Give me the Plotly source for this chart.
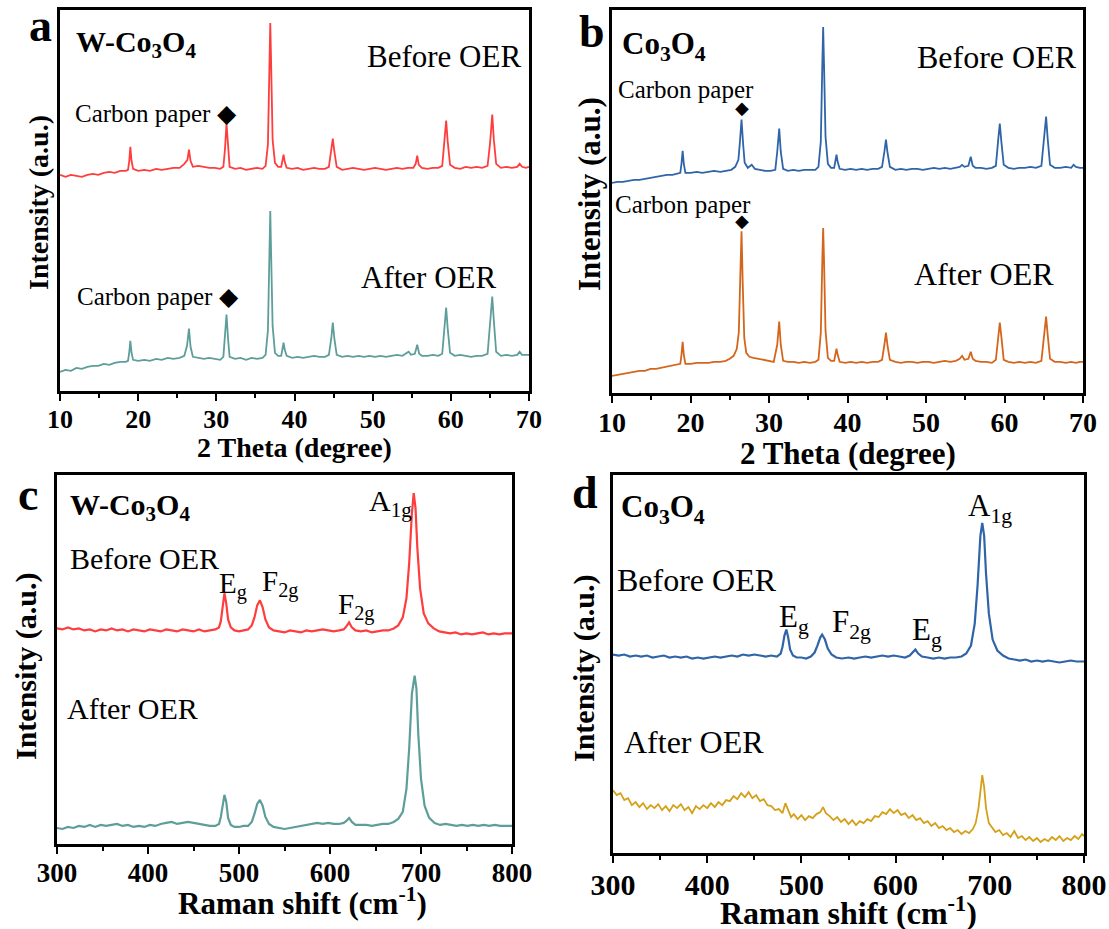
import plotly.graph_objects as go

# ---------------- DATA ----------------
# Panel a: W-Co3O4 XRD, (2theta, intensity a.u.)
xrd_a_before = [(10.0,215),(10.7,213),(11.4,215),(12.1,214),(12.8,213),(13.5,215),(14.2,216),(14.9,215),(15.6,217),(16.3,218),(17.0,217),(17.7,219),(18.4,219),(18.7,220),(18.85,228),(19.0,243),(19.15,229),(19.35,221),(20.0,219),(20.8,220),(21.5,219),(22.3,221),(23.0,220),(23.8,221),(24.5,222),(25.3,222),(25.9,226),(26.3,230),(26.5,240),(26.7,229),(27.0,223),(27.7,224),(28.4,223),(29.1,222),(29.8,222),(30.5,221),(30.9,223),(31.1,240),(31.3,266),(31.5,240),(31.7,223),(32.4,221),(33.1,222),(33.8,220),(34.5,221),(35.2,222),(35.9,221),(36.3,224),(36.6,245),(36.8,330),(36.9,366),(37.0,330),(37.2,250),(37.5,227),(37.9,223),(38.3,223),(38.45,229),(38.6,235),(38.75,228),(39.0,222),(39.7,221),(40.4,222),(41.1,220),(41.8,221),(42.5,222),(43.2,221),(43.9,221),(44.4,223),(44.7,238),(44.9,251),(45.1,238),(45.4,223),(46.1,220),(46.8,221),(47.5,222),(48.2,221),(48.9,220),(49.6,221),(50.3,222),(51.0,221),(51.7,220),(52.4,221),(53.1,222),(53.8,221),(54.5,222),(55.2,222),(55.5,226),(55.7,234),(55.9,225),(56.3,222),(57.0,221),(57.7,222),(58.4,222),(58.9,224),(59.2,250),(59.4,269),(59.6,248),(59.9,225),(60.5,222),(61.2,221),(61.9,223),(62.6,222),(63.3,223),(64.0,222),(64.7,224),(65.0,245),(65.3,275),(65.5,250),(65.8,226),(66.4,222),(67.1,223),(67.8,222),(68.5,223),(68.8,226),(69.1,223),(69.6,222),(70.0,223)]
xrd_a_after = [(10.0,19),(10.7,21),(11.4,20),(12.1,23),(12.8,22),(13.5,24),(14.2,25),(14.9,25),(15.6,27),(16.3,26),(17.0,28),(17.7,29),(18.4,29),(18.7,30),(18.85,38),(19.0,50),(19.15,38),(19.35,31),(20.0,30),(20.8,31),(21.5,30),(22.3,32),(23.0,31),(23.8,33),(24.5,32),(25.3,33),(25.9,35),(26.25,45),(26.5,62),(26.7,44),(27.0,34),(27.7,33),(28.4,32),(29.1,33),(29.8,32),(30.5,31),(30.9,34),(31.1,52),(31.3,76),(31.5,52),(31.7,34),(32.4,32),(33.1,33),(33.8,31),(34.5,33),(35.2,32),(35.9,33),(36.3,36),(36.6,60),(36.8,140),(36.9,179),(37.0,140),(37.2,65),(37.5,38),(37.9,35),(38.3,35),(38.45,42),(38.6,48),(38.75,41),(39.0,35),(39.7,33),(40.4,34),(41.1,33),(41.8,34),(42.5,35),(43.2,34),(43.9,34),(44.4,36),(44.7,52),(44.9,68),(45.1,52),(45.4,36),(46.1,34),(46.8,35),(47.5,34),(48.2,35),(48.9,34),(49.6,35),(50.3,34),(51.0,35),(51.7,34),(52.4,35),(53.1,36),(53.8,35),(54.3,37),(54.6,39),(54.9,36),(55.4,37),(55.7,46),(55.95,37),(56.3,35),(57.0,35),(57.7,36),(58.4,35),(58.9,37),(59.2,65),(59.4,83),(59.6,62),(59.9,38),(60.5,35),(61.2,36),(61.9,35),(62.6,34),(63.3,35),(64.0,35),(64.7,37),(65.0,65),(65.3,94),(65.5,70),(65.8,39),(66.4,35),(67.1,36),(67.8,35),(68.5,36),(68.8,39),(69.1,36),(69.6,36),(70.0,36)]

# Panel b: Co3O4 XRD
xrd_b_before = [(10.0,209),(10.7,210),(11.4,210),(12.1,211),(12.8,212),(13.5,212),(14.2,213),(14.9,214),(15.6,215),(16.3,216),(17.0,217),(17.7,217),(18.4,218),(18.7,219),(18.85,228),(19.0,241),(19.15,228),(19.35,219),(20.0,219),(20.8,220),(21.5,219),(22.3,220),(23.0,221),(23.8,220),(24.5,221),(25.2,222),(25.7,225),(26.1,232),(26.3,250),(26.5,272),(26.7,248),(26.9,229),(27.3,224),(27.8,227),(28.2,223),(28.8,222),(29.5,221),(30.2,221),(30.8,222),(31.05,240),(31.3,263),(31.5,240),(31.8,223),(32.4,221),(33.1,222),(33.8,221),(34.5,222),(35.2,222),(35.9,222),(36.3,225),(36.6,250),(36.8,330),(36.9,364),(37.0,330),(37.2,255),(37.5,228),(37.9,224),(38.3,224),(38.45,231),(38.6,237),(38.75,230),(39.0,223),(39.7,222),(40.4,223),(41.1,222),(41.8,223),(42.5,222),(43.2,223),(43.9,223),(44.4,225),(44.7,240),(44.9,252),(45.1,239),(45.4,225),(46.1,222),(46.8,223),(47.5,222),(48.2,223),(48.9,223),(49.6,222),(50.3,223),(51.0,224),(51.7,223),(52.4,224),(53.1,223),(53.8,224),(54.3,225),(54.6,227),(54.9,225),(55.4,226),(55.7,235),(55.95,226),(56.3,224),(57.0,224),(57.7,223),(58.4,224),(58.9,226),(59.2,252),(59.4,268),(59.6,250),(59.9,227),(60.5,224),(61.2,223),(61.9,224),(62.6,224),(63.3,225),(64.0,224),(64.7,226),(65.0,250),(65.3,275),(65.5,253),(65.8,227),(66.4,224),(67.1,224),(67.8,225),(68.5,224),(68.8,227),(69.1,225),(69.6,224),(70.0,224)]
xrd_b_after = [(10.0,17),(10.7,18),(11.4,19),(12.1,20),(12.8,21),(13.5,22),(14.2,22),(14.9,24),(15.6,24),(16.3,25),(17.0,26),(17.7,27),(18.4,28),(18.7,29),(18.85,38),(19.0,51),(19.15,38),(19.35,29),(20.0,29),(20.8,30),(21.5,30),(22.3,30),(23.0,31),(23.8,31),(24.5,32),(25.0,34),(25.5,37),(25.9,44),(26.15,60),(26.35,110),(26.5,161),(26.65,110),(26.85,55),(27.1,40),(27.5,36),(28.0,35),(28.6,34),(29.3,33),(30.0,32),(30.6,31),(31.05,48),(31.3,71),(31.5,48),(31.8,32),(32.4,31),(33.1,31),(33.8,30),(34.5,31),(35.2,30),(35.9,31),(36.3,33),(36.6,60),(36.8,135),(36.9,164),(37.0,135),(37.2,62),(37.5,35),(37.9,32),(38.3,32),(38.45,39),(38.6,44),(38.75,38),(39.0,31),(39.7,30),(40.4,31),(41.1,30),(41.8,31),(42.5,30),(43.2,31),(43.9,31),(44.4,33),(44.7,48),(44.9,60),(45.1,47),(45.4,33),(46.1,31),(46.8,30),(47.5,31),(48.2,31),(48.9,30),(49.6,31),(50.3,31),(51.0,30),(51.7,31),(52.4,32),(53.1,31),(53.8,32),(54.3,34),(54.6,37),(54.9,33),(55.4,34),(55.7,41),(55.95,34),(56.3,32),(57.0,31),(57.7,31),(58.4,30),(58.9,33),(59.2,58),(59.4,70),(59.6,56),(59.9,33),(60.5,31),(61.2,30),(61.9,31),(62.6,30),(63.3,31),(64.0,30),(64.7,32),(65.0,55),(65.3,76),(65.5,58),(65.8,34),(66.4,31),(67.1,31),(67.8,30),(68.5,31),(69.1,30),(69.6,31),(70.0,31)]

# Panel c: W-Co3O4 Raman, (shift cm-1, intensity a.u.)
raman_c_before = [(300,215),(306,214),(312,216),(318,214),(324,215),(330,213),(336,214),(342,212),(348,214),(354,213),(360,215),(366,213),(372,214),(378,212),(384,214),(390,213),(396,212),(402,214),(408,213),(414,212),(420,214),(426,213),(432,212),(438,214),(444,213),(450,212),(456,214),(462,212),(468,213),(474,214),(478,216),(480,222),(482,236),(484,250),(486,240),(488,224),(491,216),(495,213),(500,212),(505,213),(510,214),(514,218),(517,226),(520,238),(523,243),(526,236),(529,224),(533,216),(538,213),(544,212),(550,211),(556,213),(562,212),(568,211),(574,213),(580,212),(586,213),(592,214),(598,213),(604,212),(610,213),(615,214),(618,217),(621,221),(624,216),(628,213),(634,212),(640,213),(646,211),(652,212),(658,213),(664,213),(670,215),(675,218),(680,226),(684,245),(687,280),(690,330),(692,350),(694,335),(696,295),(699,255),(703,230),(708,220),(714,215),(720,212),(726,211),(732,210),(738,211),(744,209),(750,210),(756,209),(762,210),(768,211),(774,209),(780,210),(786,209),(792,210),(800,210)]
raman_c_after = [(300,16),(306,15),(312,17),(318,16),(324,18),(330,17),(336,19),(342,17),(348,19),(354,18),(360,19),(366,20),(372,18),(378,19),(384,17),(390,18),(396,17),(402,19),(408,18),(414,20),(420,21),(426,22),(432,20),(438,21),(444,22),(450,21),(456,20),(462,19),(468,18),(474,18),(478,20),(480,27),(482,40),(484,49),(486,42),(488,26),(491,19),(495,17),(500,17),(505,18),(510,18),(514,22),(517,30),(520,40),(523,44),(526,38),(529,27),(533,20),(538,17),(544,16),(550,15),(556,16),(562,17),(568,18),(574,19),(580,20),(586,21),(592,20),(598,21),(604,20),(610,20),(615,21),(618,23),(621,26),(624,22),(628,19),(634,19),(640,19),(646,18),(652,19),(658,20),(664,20),(670,22),(675,25),(680,32),(684,55),(687,95),(690,150),(693,168),(695,155),(697,110),(700,65),(704,38),(709,26),(715,21),(721,19),(727,20),(733,19),(739,18),(745,19),(751,18),(757,19),(763,18),(769,19),(775,18),(781,19),(787,18),(793,18),(800,18)]

# Panel d: Co3O4 Raman
raman_d_before = [(300,199),(306,198),(312,199),(318,197),(324,198),(330,197),(336,198),(342,196),(348,197),(354,198),(360,196),(366,197),(372,196),(378,197),(384,195),(390,196),(396,195),(402,196),(408,197),(414,196),(420,197),(426,198),(432,197),(438,199),(444,198),(450,199),(456,198),(462,197),(468,198),(474,197),(478,200),(480,207),(482,218),(484,224),(486,216),(488,204),(491,198),(495,196),(500,196),(505,195),(510,197),(514,201),(517,208),(520,216),(522,219),(525,214),(528,205),(532,199),(537,196),(543,195),(550,196),(556,195),(562,196),(568,197),(574,196),(580,197),(586,198),(592,197),(598,198),(604,197),(610,196),(615,198),(618,201),(621,204),(624,200),(628,197),(634,196),(640,195),(646,196),(652,195),(658,196),(664,196),(670,197),(675,200),(680,208),(684,230),(687,268),(690,318),(692,331),(694,318),(696,280),(699,240),(703,214),(708,203),(714,198),(720,195),(726,194),(732,193),(738,194),(744,192),(750,193),(756,192),(762,193),(768,192),(774,191),(780,192),(786,193),(792,192),(800,192)]
raman_d_after = [(300,63),(304,58),(308,60),(312,53),(316,55),(320,48),(324,51),(328,46),(332,50),(336,44),(340,48),(344,45),(348,49),(352,43),(356,47),(360,42),(364,48),(368,45),(372,49),(376,43),(380,46),(384,40),(388,47),(392,44),(396,48),(400,45),(404,50),(408,46),(412,51),(416,48),(420,53),(424,52),(428,57),(432,54),(436,60),(440,56),(444,61),(448,55),(452,58),(456,52),(460,54),(464,48),(468,47),(472,43),(476,44),(480,40),(483,50),(486,42),(489,36),(492,39),(496,34),(500,38),(504,33),(508,37),(512,35),(516,39),(520,41),(523,46),(526,40),(530,37),(534,33),(538,36),(542,31),(546,34),(550,29),(554,33),(558,28),(562,32),(566,30),(570,34),(574,32),(578,37),(582,36),(586,41),(590,39),(594,44),(598,40),(602,43),(606,38),(610,40),(614,35),(618,38),(622,33),(626,35),(630,30),(634,32),(638,27),(642,30),(646,25),(650,27),(654,23),(658,25),(662,21),(666,23),(670,19),(674,22),(678,20),(682,24),(685,30),(688,45),(690,65),(692,78),(694,66),(696,45),(699,30),(702,26),(706,21),(710,23),(714,18),(718,20),(722,16),(726,22),(730,15),(734,17),(738,13),(742,16),(746,12),(750,15),(754,11),(758,14),(762,12),(766,16),(770,13),(774,17),(778,12),(782,15),(786,13),(790,17),(794,14),(798,19),(800,17)]

xrd_ticks = [10, 20, 30, 40, 50, 60, 70]
raman_ticks = [300, 400, 500, 600, 700, 800]

# ---------------- FIGURE ----------------
W, H = 1109, 929
SERIF = "Liberation Serif"
RED, TEAL, BLUE, ORANGE, GOLD = "#FF3D3D", "#5E9E9A", "#2F64A8", "#D4661C", "#D4A017"

def px(x):
    return x / W

def py(y):
    return 1 - y / H

fig = go.Figure()

def add(series, color, xa, ya, width=1.8):
    xs = [p[0] for p in series]
    ys = [p[1] for p in series]
    fig.add_trace(go.Scatter(x=xs, y=ys, mode="lines", xaxis=xa, yaxis=ya,
                             line=dict(color=color, width=width), showlegend=False,
                             hoverinfo="skip"))

add(xrd_a_before, RED, "x", "y")
add(xrd_a_after, TEAL, "x", "y")
add(xrd_b_before, BLUE, "x2", "y2")
add(xrd_b_after, ORANGE, "x2", "y2")
add(raman_c_before, RED, "x3", "y3", 2.2)
add(raman_c_after, TEAL, "x3", "y3", 2.2)
add(raman_d_before, BLUE, "x4", "y4", 2.2)
add(raman_d_after, GOLD, "x4", "y4", 1.8)

def xax(domain, rng, ticks, minor, size, anchor):
    return dict(domain=domain, range=rng, tickmode="array", tickvals=ticks,
                ticktext=["<b>%d</b>" % t for t in ticks], ticks="outside", ticklen=7,
                tickwidth=2.2, tickcolor="black", showline=True, linewidth=2.5,
                linecolor="black", mirror=True, showgrid=False, zeroline=False,
                anchor=anchor, automargin=False, ticklabelstandoff=-4,
                tickfont=dict(family=SERIF, size=size, color="black"),
                minor=dict(dtick=minor, ticks="outside", ticklen=4, tickwidth=2,
                           tickcolor="black", showgrid=False))

def yax(domain, rng, anchor):
    return dict(domain=domain, range=rng, showticklabels=False, ticks="",
                showline=True, linewidth=2.5, linecolor="black", mirror=True,
                showgrid=False, zeroline=False, anchor=anchor, automargin=False)

fig.update_layout(
    template="none",
    width=W, height=H, margin=dict(l=0, r=0, t=0, b=0, pad=0),
    paper_bgcolor="white", plot_bgcolor="white",
    font=dict(family=SERIF, color="black"),
    xaxis=xax([px(60), px(529)], [10, 70], xrd_ticks, 5, 26, "y"),
    yaxis=yax([py(391), py(10)], [0, 379], "x"),
    xaxis2=xax([px(612), px(1083)], [10, 70], xrd_ticks, 5, 28, "y2"),
    yaxis2=yax([py(393), py(10)], [0, 381], "x2"),
    xaxis3=xax([px(57), px(512)], [300, 800], raman_ticks, 50, 27, "y3"),
    yaxis3=yax([py(844), py(475)], [0, 368], "x3"),
    xaxis4=xax([px(613), px(1084)], [300, 800], raman_ticks, 50, 30, "y4"),
    yaxis4=yax([py(853), py(475)], [0, 379], "x4"),
)

ann = []

def T(text, x, y, size, bold=False, angle=0):
    ann.append(dict(text=text, x=px(x), y=py(y), xref="paper", yref="paper",
                    showarrow=False, xanchor="center", yanchor="middle", textangle=angle,
                    font=dict(family=SERIF, size=size, color="black",
                              weight="bold" if bold else "normal")))

def D(x, y, xref, yref, size):
    ann.append(dict(text="◆", x=x, y=y, xref=xref, yref=yref, showarrow=False,
                    xanchor="center", yanchor="middle",
                    font=dict(family="DejaVu Sans", size=size, color="black")))

# Panel a
T("a", 40, 25, 46, True)
T("W-Co<sub>3</sub>O<sub>4</sub>", 136, 44, 30, True)
T("Before OER", 444, 56, 31)
T("Carbon paper ◆", 156, 113, 25)
T("After OER", 428, 277, 31)
T("Carbon paper ◆", 158, 296, 25)
T("2 Theta (degree)", 294, 447, 28, True)
T("Intensity (a.u.)", 38, 203, 28, True, -90)

# Panel b
T("b", 592, 32, 46, True)
T("Co<sub>3</sub>O<sub>4</sub>", 664, 46, 31, True)
T("Before OER", 997, 57, 32)
T("Carbon paper", 686, 90, 25)
D(26.55, 284, "x2", "y2", 18)
T("Carbon paper", 683, 204, 25)
D(26.55, 172, "x2", "y2", 18)
T("After OER", 984, 274, 32)
T("2 Theta (degree)", 848, 453, 31, True)
T("Intensity (a.u.)", 589, 194, 31, True, -90)

# Panel c
T("c", 28, 495, 46, True)
T("W-Co<sub>3</sub>O<sub>4</sub>", 130, 507, 30, True)
T("A<sub>1g</sub>", 390, 503, 30)
T("Before OER", 144, 558, 30)
T("E<sub>g</sub>", 233, 585, 29)
T("F<sub>2g</sub>", 280, 583, 29)
T("F<sub>2g</sub>", 356, 606, 29)
T("After OER", 132, 708, 30)
T("Raman shift (cm<sup>-1</sup>)", 302, 901, 31, True)
T("Intensity (a.u.)", 26, 666, 30, True, -90)

# Panel d
T("d", 585, 492, 46, True)
T("Co<sub>3</sub>O<sub>4</sub>", 663, 509, 31, True)
T("A<sub>1g</sub>", 990, 508, 31)
T("Before OER", 697, 580, 32)
T("E<sub>g</sub>", 794, 619, 31)
T("F<sub>2g</sub>", 851, 624, 31)
T("E<sub>g</sub>", 927, 632, 31)
T("After OER", 694, 742, 32)
T("Raman shift (cm<sup>-1</sup>)", 848, 911, 32, True)
T("Intensity (a.u.)", 584, 668, 30, True, -90)

fig.update_layout(annotations=ann)
fig.write_html("out.html")
